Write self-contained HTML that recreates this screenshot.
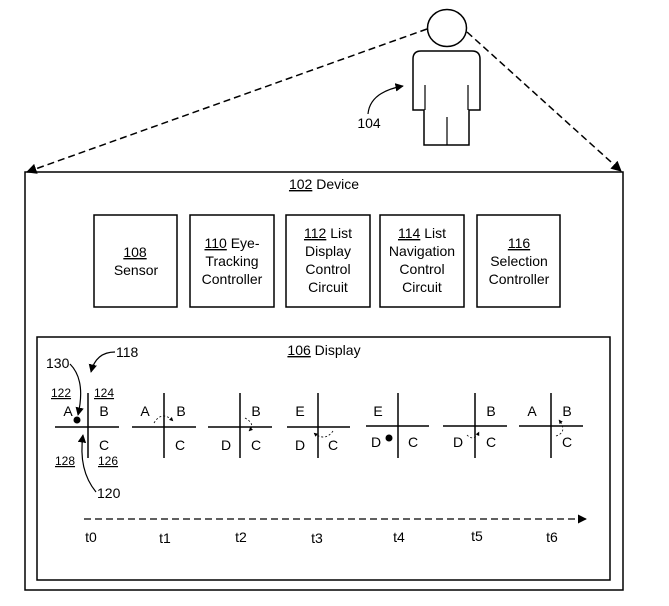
<!DOCTYPE html>
<html><head><style>
body{margin:0;background:#fff}
svg{display:block}
text{font-family:"Liberation Sans",Arial,sans-serif;fill:#000}
</style></head><body>
<svg width="669" height="606" viewBox="0 0 669 606" xmlns="http://www.w3.org/2000/svg">
<defs>
<marker id="ah" viewBox="0 0 10 10" refX="9" refY="5" markerWidth="7" markerHeight="7" orient="auto"><path d="M0,0L10,5L0,10z" fill="#000"/></marker>
<marker id="sa" viewBox="0 0 10 10" refX="9" refY="5" markerWidth="5" markerHeight="5" orient="auto"><path d="M0,0L10,5L0,10z" fill="#000"/></marker>
</defs>
<!-- person -->
<ellipse cx="447" cy="28" rx="19.5" ry="18.5" fill="#fff" stroke="#000" stroke-width="1.5"/>
<path d="M424,145 V110 H413 V59 Q413,51 421,51 H472 Q480,51 480,59 V110 H469 V145 Z" fill="#fff" stroke="#000" stroke-width="1.5"/>
<line x1="425" y1="85" x2="425" y2="110" stroke="#000" stroke-width="1.2"/>
<line x1="468" y1="85" x2="468" y2="110" stroke="#000" stroke-width="1.2"/>
<line x1="447" y1="117" x2="447" y2="145" stroke="#000" stroke-width="1.2"/>
<path d="M368,114 Q370,92 403,86" fill="none" stroke="#000" stroke-width="1.2" marker-end="url(#ah)"/>
<text x="369" y="128" font-size="14" text-anchor="middle">104</text>
<!-- dashed sight lines -->
<line x1="427" y1="29" x2="27" y2="172" stroke="#000" stroke-width="1.5" stroke-dasharray="7,4" marker-end="url(#ah)"/>
<line x1="467" y1="32" x2="621" y2="171" stroke="#000" stroke-width="1.5" stroke-dasharray="7,4" marker-end="url(#ah)"/>
<!-- device -->
<rect x="25" y="172" width="598" height="418" fill="none" stroke="#000" stroke-width="1.5"/>
<text x="324" y="189" font-size="14" text-anchor="middle"><tspan text-decoration="underline">102</tspan> Device</text>
<g fill="none" stroke="#000" stroke-width="1.5">
<rect x="94" y="215" width="83" height="92"/>
<rect x="190" y="215" width="84" height="92"/>
<rect x="286" y="215" width="84" height="92"/>
<rect x="380" y="215" width="84" height="92"/>
<rect x="477" y="215" width="83" height="92"/>
</g>
<g font-size="14" text-anchor="middle">
<text x="135" y="257"><tspan text-decoration="underline">108</tspan></text>
<text x="136" y="275">Sensor</text>
<text x="232" y="248"><tspan text-decoration="underline">110</tspan> Eye-</text>
<text x="232" y="266">Tracking</text>
<text x="232" y="284">Controller</text>
<text x="328" y="238"><tspan text-decoration="underline">112</tspan> List</text>
<text x="328" y="256">Display</text>
<text x="328" y="274">Control</text>
<text x="328" y="292">Circuit</text>
<text x="422" y="238"><tspan text-decoration="underline">114</tspan> List</text>
<text x="422" y="256">Navigation</text>
<text x="422" y="274">Control</text>
<text x="422" y="292">Circuit</text>
<text x="519" y="248"><tspan text-decoration="underline">116</tspan></text>
<text x="519" y="266">Selection</text>
<text x="519" y="284">Controller</text>
</g>
<!-- display -->
<rect x="37" y="337" width="573" height="243" fill="none" stroke="#000" stroke-width="1.5"/>
<text x="324" y="355" font-size="14" text-anchor="middle"><tspan text-decoration="underline">106</tspan> Display</text>
<!-- crosses -->
<g stroke="#000" stroke-width="1.5">
<line x1="88" y1="393" x2="88" y2="458"/><line x1="55" y1="427" x2="119" y2="427"/>
<line x1="164" y1="393" x2="164" y2="458"/><line x1="132" y1="427" x2="196" y2="427"/>
<line x1="240" y1="393" x2="240" y2="458"/><line x1="208" y1="427" x2="272" y2="427"/>
<line x1="318" y1="393" x2="318" y2="458"/><line x1="287" y1="427" x2="350" y2="427"/>
<line x1="398" y1="393" x2="398" y2="458"/><line x1="366" y1="426" x2="429" y2="426"/>
<line x1="475" y1="393" x2="475" y2="458"/><line x1="443" y1="426" x2="507" y2="426"/>
<line x1="551" y1="393" x2="551" y2="458"/><line x1="519" y1="426" x2="583" y2="426"/>
</g>
<g font-size="14" text-anchor="middle">
<text x="68" y="416">A</text><text x="104" y="416">B</text><text x="104" y="450">C</text>
<text x="145" y="416">A</text><text x="181" y="416">B</text><text x="180" y="450">C</text>
<text x="256" y="416">B</text><text x="226" y="450">D</text><text x="256" y="450">C</text>
<text x="300" y="416">E</text><text x="300" y="450">D</text><text x="333" y="450">C</text>
<text x="378" y="416">E</text><text x="376" y="447">D</text><text x="413" y="447">C</text>
<text x="491" y="416">B</text><text x="458" y="447">D</text><text x="491" y="447">C</text>
<text x="532" y="416">A</text><text x="567" y="416">B</text><text x="567" y="447">C</text>
</g>
<circle cx="77" cy="420" r="3.5" fill="#000"/>
<circle cx="389" cy="438" r="3.5" fill="#000"/>
<g fill="none" stroke="#000" stroke-width="0.8" stroke-dasharray="2,2">
<path d="M154,423 Q162,410 173,421" marker-end="url(#sa)"/>
<path d="M245,418 Q256,424 249,431" marker-end="url(#sa)"/>
<path d="M333,431 Q325,442 314,433" marker-end="url(#sa)"/>
<path d="M467,435 Q474,442 479,432" marker-end="url(#sa)"/>
<path d="M556,436 Q568,432 559,420" marker-end="url(#sa)"/>
</g>
<g font-size="12">
<text x="51" y="397" text-decoration="underline">122</text>
<text x="94" y="397" text-decoration="underline">124</text>
<text x="55" y="465" text-decoration="underline">128</text>
<text x="98" y="465" text-decoration="underline">126</text>
</g>
<text x="46" y="368" font-size="14">130</text>
<text x="116" y="357" font-size="14">118</text>
<text x="97" y="498" font-size="14">120</text>
<path d="M70,364 Q86,380 78,415" fill="none" stroke="#000" stroke-width="1.2" marker-end="url(#ah)"/>
<path d="M115,352 Q96,352 91,372" fill="none" stroke="#000" stroke-width="1.2" marker-end="url(#ah)"/>
<path d="M96,492 Q78,470 83,435" fill="none" stroke="#000" stroke-width="1.2" marker-end="url(#ah)"/>
<line x1="84" y1="519" x2="586" y2="519" stroke="#000" stroke-width="1.3" stroke-dasharray="7,4" marker-end="url(#ah)"/>
<g font-size="14" text-anchor="middle">
<text x="91" y="542">t0</text><text x="165" y="543">t1</text><text x="241" y="542">t2</text>
<text x="317" y="543">t3</text><text x="399" y="542">t4</text><text x="477" y="541">t5</text><text x="552" y="542">t6</text>
</g>
</svg>
</body></html>
